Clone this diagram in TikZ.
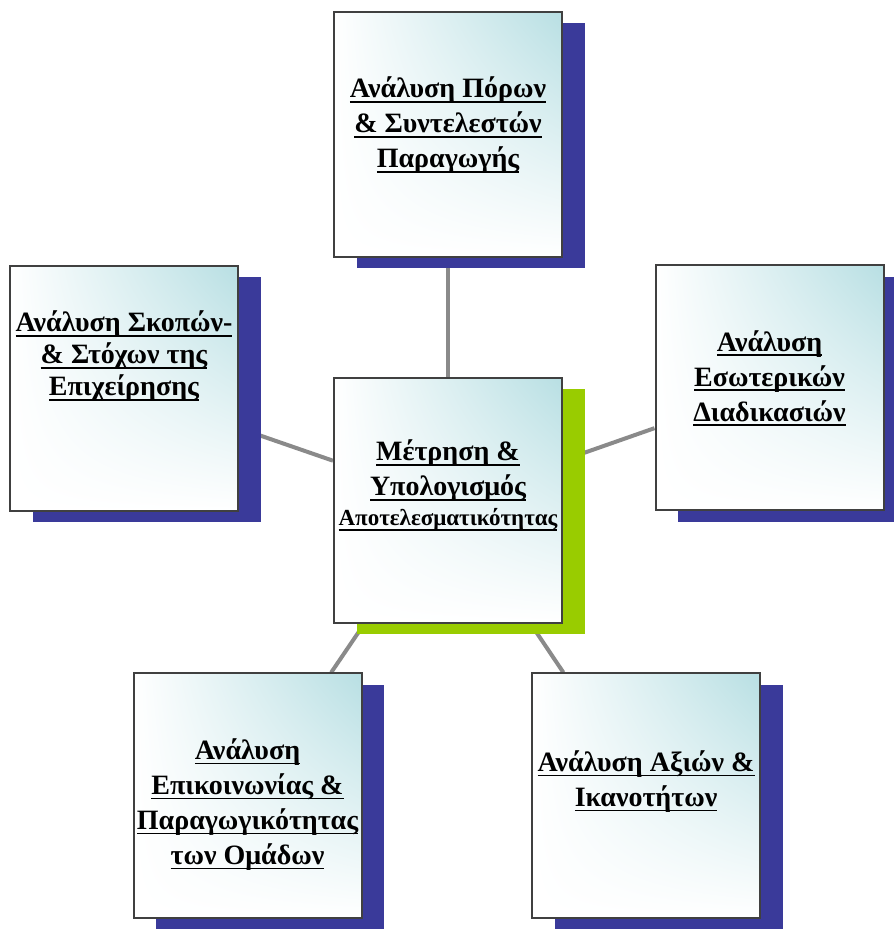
\documentclass[tikz,border=0pt]{standalone}
\usepackage{fontspec}
\setmainfont{Liberation Serif}
\usetikzlibrary{positioning, shadows, shadings, backgrounds}
\definecolor{cardteal}{HTML}{B8DFE3}
\definecolor{shadowblue}{HTML}{3A3A9A}
\definecolor{shadowgreen}{HTML}{99CC00}
\definecolor{spokegray}{HTML}{8A8A8A}
% underline at a fixed depth below the baseline
\newsavebox{\streepbox}
\newcommand{\streep}[1]{\sbox{\streepbox}{#1}\rlap{\rule[-2.6pt]{\wd\streepbox}{0.9pt}}\usebox{\streepbox}}
\tikzset{
  % the basic card: framed box with a shading from the upper right
  card/.style={%
    draw=black!75,
    line width=1pt,
    minimum width=114pt,
    minimum height=122.5pt,
    inner sep=0pt,
    upper right=cardteal, upper left=white,
    lower left=white, lower right=white
  },
  % the cards round the middle get a blue shadow, the middle one a green one
  sidecard/.style={card, drop shadow={shadow xshift=11.25pt, shadow yshift=-5.75pt, fill=shadowblue, opacity=1}},
  maincard/.style={card, drop shadow={shadow xshift=11.25pt, shadow yshift=-5.75pt, fill=shadowgreen, opacity=1}},
  % the texts
  caption/.style={align=center, inner sep=0pt, font=\bfseries\fontsize{14}{17.5}\selectfont},
  % the grey connectors
  spoke/.style={draw=spokegray, line width=2pt}
}

\begin{document}
\begin{tikzpicture}[x=0.5pt, y=0.5pt]

  \useasboundingbox (0,0) rectangle (893,929);

  % --- THE CARDS ---

  \node [maincard] (eval)    at (448,428.5) {};
  \node [sidecard] (pores)   at (448,794.5) {};
  \node [sidecard] (goals)   at (124,540.5) {};
  \node [sidecard] (process) at (769.5,541) {};
  \node [sidecard] (teams)   at (247.5,133) {};
  \node [sidecard] (values)  at (646,133)   {};

  % --- THE TEXTS ---

  \node [caption, below=31.2pt of eval.north] (evaltxt)
    {\streep{Μέτρηση \&}\\ \streep{Υπολογισμός}\\[-2.5pt] {\fontsize{11.5}{13}\selectfont\streep{Αποτελεσματικότητας}}};
  \node [caption, below=32.7pt of pores.north] (porestxt)
    {\streep{Ανάλυση Πόρων}\\ \streep{\& Συντελεστών}\\ \streep{Παραγωγής}};
  \node [caption, font=\bfseries\fontsize{14}{16}\selectfont, below=22.7pt of goals.north] (goalstxt)
    {\streep{Ανάλυση Σκοπών-}\\ \streep{\& Στόχων της}\\ \streep{Επιχείρησης}};
  \node [caption, below=32.7pt of process.north] (processtxt)
    {\streep{Ανάλυση}\\ \streep{Εσωτερικών}\\ \streep{Διαδικασιών}};
  \node [caption, below=32.7pt of teams.north] (teamstxt)
    {\streep{Ανάλυση}\\ \streep{Επικοινωνίας \&}\\ \streep{Παραγωγικότητας}\\ \streep{των Ομάδων}};
  \node [caption, below=38.7pt of values.north] (valuestxt)
    {\streep{Ανάλυση Αξιών \&}\\ \streep{Ικανοτήτων}};

  % --- THE CONNECTORS, behind the cards ---

  \begin{scope}[on background layer]
    \foreach \n in {pores, goals, process, teams, values}
      \draw [spoke] (eval) -- (\n);
  \end{scope}

\end{tikzpicture}
\end{document}
